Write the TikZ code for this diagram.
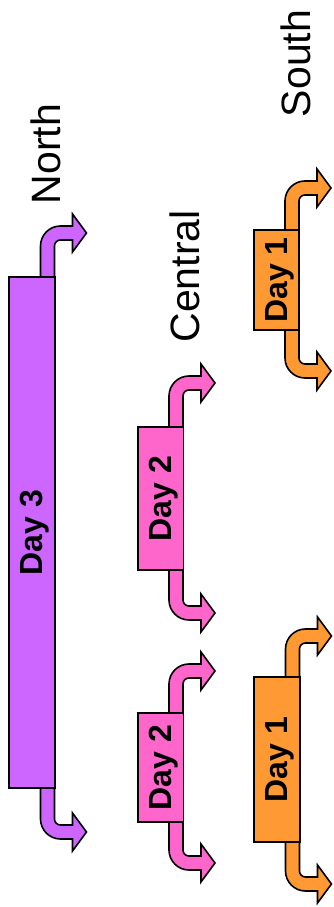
\documentclass[tikz,border=0pt]{standalone}
\usepackage{fontspec}
\setmainfont{Liberation Sans}
\usetikzlibrary{calc}
\definecolor{purp}{RGB}{204,102,255}
\definecolor{pinkc}{RGB}{255,102,204}
\definecolor{orng}{RGB}{255,153,51}
\tikzset{
  box/.style={draw=black, line width=1.6pt, inner sep=0pt},
  daylbl/.style={font=\fontsize{32}{35}\selectfont\bfseries, rotate=90, inner sep=0pt},
  regionlbl/.style={font=\fontsize{41}{46}\selectfont, rotate=90, anchor=base, inner sep=0pt},
  arrowshape/.style={draw=black, line width=1.6pt, line join=miter},
  pics/upturn/.style n args={2}{code={
    \path[arrowshape, fill=#1] (-7,-3) -- (-7,#2-13) arc[start angle=180,end angle=90,radius=20]
      -- (25,#2+7) -- (25,#2+19) -- (39,#2) -- (25,#2-19) -- (25,#2-7) -- (13,#2-7)
      arc[start angle=90,end angle=180,radius=6] -- (7,-3) -- cycle;
  }},
  pics/downturn/.style n args={2}{code={
    \path[arrowshape, fill=#1] (-7,3) -- (-7,-#2+13) arc[start angle=180,end angle=270,radius=20]
      -- (25,-#2-7) -- (25,-#2-19) -- (39,-#2) -- (25,-#2+19) -- (25,-#2+7) -- (13,-#2+7)
      arc[start angle=270,end angle=180,radius=6] -- (7,3) -- cycle;
  }}
}
\begin{document}
\begin{tikzpicture}[x=1pt,y=1pt]
\useasboundingbox (0,0) rectangle (333,907);
% anchor coordinates for arrows (stem centres at box edges)
\coordinate (nT) at (47.5,630);
\coordinate (nB) at (47.5,119);
\coordinate (c1T) at (176,480);
\coordinate (c1B) at (176,337);
\coordinate (c2T) at (176,194);
\coordinate (c2B) at (176,85);
\coordinate (s1T) at (292,677);
\coordinate (s1B) at (292,577);
\coordinate (s2T) at (292.5,230);
\coordinate (s2B) at (292.5,65);
% arrows
\pic at (nT) {upturn={purp}{44}};
\pic at (nB) {downturn={purp}{44}};
\pic at (c1T) {upturn={pinkc}{44}};
\pic at (c1B) {downturn={pinkc}{43}};
\pic at (c2T) {upturn={pinkc}{42}};
\pic at (c2B) {downturn={pinkc}{41}};
\pic at (s1T) {upturn={orng}{42}};
\pic at (s1B) {downturn={orng}{41}};
\pic at (s2T) {upturn={orng}{41}};
\pic at (s2B) {downturn={orng}{42}};
% boxes
\node[box, fill=purp, minimum width=46, minimum height=511] (north box) at (32,374.5) {};
\node[box, fill=pinkc, minimum width=45.5, minimum height=143] (central box1) at (160.75,408.5) {};
\node[box, fill=pinkc, minimum width=45.5, minimum height=109] (central box2) at (160.75,139.5) {};
\node[box, fill=orng, minimum width=45, minimum height=100] (south box1) at (276.5,627) {};
\node[box, fill=orng, minimum width=46, minimum height=165] (south box2) at (277,147.5) {};
% day labels
\node[daylbl] (d3) at ($(north box.center)+(3,0)$) {Day 3};
\node[daylbl] (d2a) at ($(central box1.center)+(3,0)$) {Day 2};
\node[daylbl] (d2b) at ($(central box2.center)+(3,0)$) {Day 2};
\node[daylbl] (d1a) at ($(south box1.center)+(3,0)$) {Day 1};
\node[daylbl] (d1b) at ($(south box2.center)+(3,0)$) {Day 1};
% region labels
\node[regionlbl] (north) at (61,753) {North};
\node[regionlbl] (central) at (199,630.5) {Central};
\node[regionlbl] (south) at (310,843.5) {South};
\end{tikzpicture}
\end{document}
